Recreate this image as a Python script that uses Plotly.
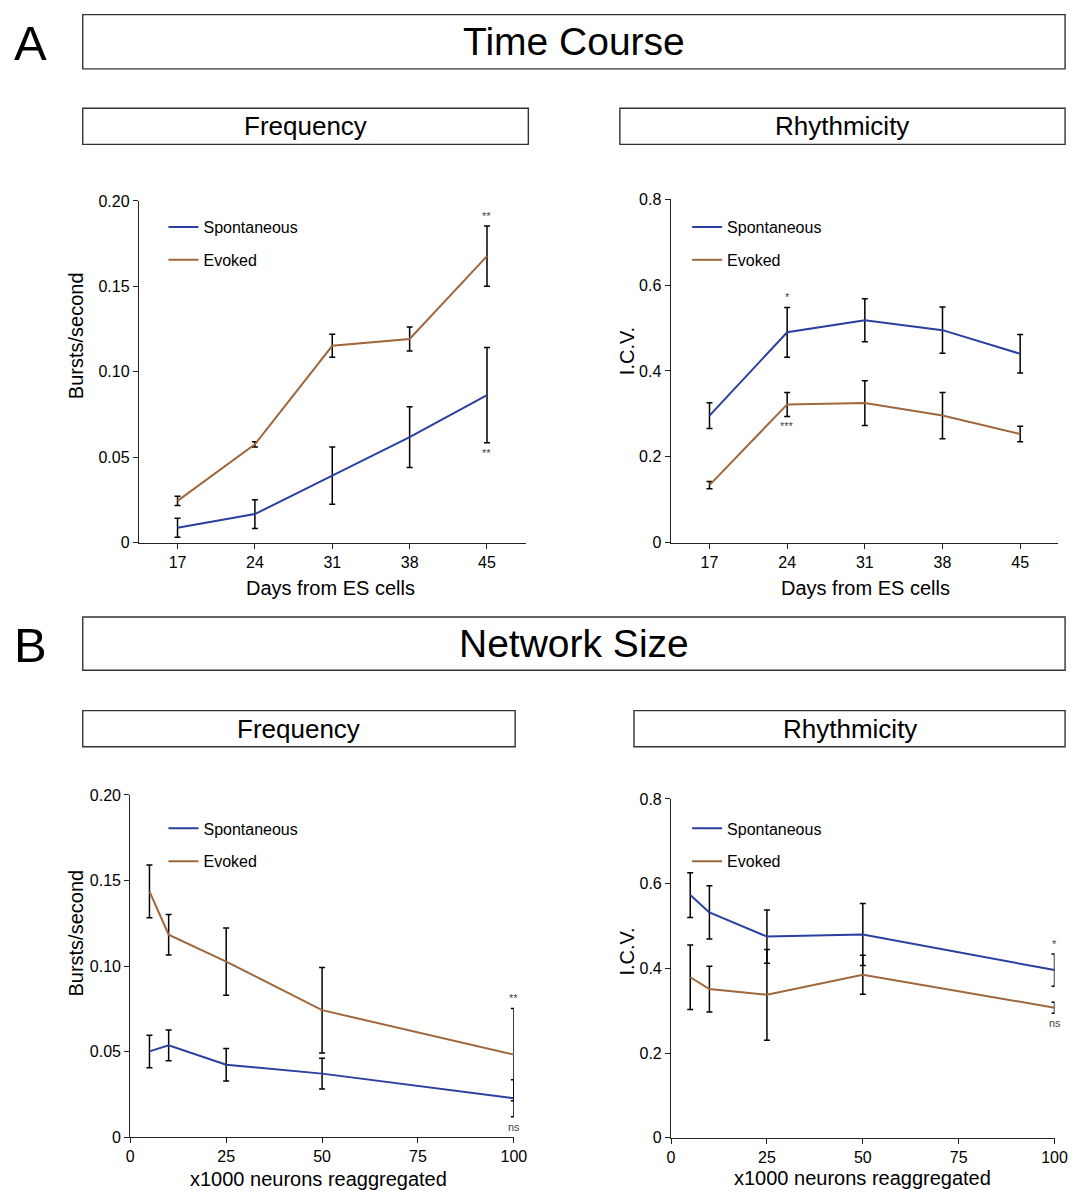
import plotly.graph_objects as go

W, H = 1083, 1200

# ---------------- data ----------------
days = [17, 24, 31, 38, 45]
tc_freq_spont = [0.0087, 0.0167, 0.0392, 0.0617, 0.0863]
tc_freq_spont_err = [0.0055, 0.0084, 0.0167, 0.0178, 0.0279]
tc_freq_evoked = [0.0244, 0.0575, 0.1152, 0.1192, 0.1677]
tc_freq_evoked_err = [0.0027, 0.0015, 0.0067, 0.0070, 0.0176]
tc_icv_spont = [0.296, 0.490, 0.518, 0.495, 0.440]
tc_icv_spont_err = [0.030, 0.058, 0.050, 0.054, 0.045]
tc_icv_evoked = [0.134, 0.322, 0.325, 0.296, 0.253]
tc_icv_evoked_err = [0.0085, 0.028, 0.052, 0.054, 0.018]

neurons = [5, 10, 25, 50, 100]
ns_freq_spont = [0.0501, 0.0536, 0.0423, 0.0371, 0.0227]
ns_freq_spont_err = [0.0095, 0.0090, 0.0095, 0.0090, 0.0108]
ns_freq_evoked = [0.1437, 0.1183, 0.1026, 0.0742, 0.0482]
ns_freq_evoked_err = [0.0154, 0.0118, 0.0197, 0.0250, 0.0270]
ns_icv_spont = [0.573, 0.532, 0.475, 0.480, 0.396]
ns_icv_spont_err = [0.053, 0.063, 0.063, 0.073, 0.038]
ns_icv_evoked = [0.379, 0.351, 0.3375, 0.385, 0.307]
ns_icv_evoked_err = [0.076, 0.054, 0.107, 0.046, 0.013]

freq_ticks = [0, 0.05, 0.10, 0.15, 0.20]
freq_ticktext = ["0", "0.05", "0.10", "0.15", "0.20"]
icv_ticks = [0, 0.2, 0.4, 0.6, 0.8]
icv_ticktext = ["0", "0.2", "0.4", "0.6", "0.8"]
neuron_ticks = [0, 25, 50, 75, 100]

BLUE = "#2b3f9e"
BROWN = "#a0663c"
FONT = "Liberation Sans, Arial, Helvetica, sans-serif"


def fx(px):
    return px / W


def fy(py):
    return 1 - py / H


panels = [
    dict(n="", x=days, s=tc_freq_spont, se=tc_freq_spont_err, e=tc_freq_evoked, ee=tc_freq_evoked_err,
         xpx=(137, 530), ypx=(542.3, 195.7), xr=[13.5, 48.5], xtv=days, xtt=[str(d) for d in days],
         yr=[0, 0.2], ytv=freq_ticks, ytt=freq_ticktext,
         ytitle="Bursts/second", ytpos=(73, 332), xtitle="Days from ES cells", xtpos=(332, 588),
         leg=(162, 205),
         stars=[("e", 4, "above", "**"), ("s", 4, "below", "**")]),
    dict(n="2", x=days, s=tc_icv_spont, se=tc_icv_spont_err, e=tc_icv_evoked, ee=tc_icv_evoked_err,
         xpx=(677.3, 1070.7), ypx=(542.3, 194), xr=[13.5, 48.4], xtv=days, xtt=[str(d) for d in days],
         yr=[0, 0.8], ytv=icv_ticks, ytt=icv_ticktext,
         ytitle="I.C.V.", ytpos=(633, 348), xtitle="Days from ES cells", xtpos=(875, 588),
         leg=(694, 205),
         stars=[("s", 1, "above", "*"), ("e", 1, "below", "***")]),
    dict(n="3", x=neurons, s=ns_freq_spont, se=ns_freq_spont_err, e=ns_freq_evoked, ee=ns_freq_evoked_err,
         xpx=(128.3, 518), ypx=(1145.3, 798.3), xr=[0, 100], xtv=neuron_ticks, xtt=[str(t) for t in neuron_ticks],
         yr=[0, 0.2], ytv=freq_ticks, ytt=freq_ticktext,
         ytitle="Bursts/second", ytpos=(73, 938), xtitle="x1000 neurons reaggregated", xtpos=(320, 1188),
         leg=(162, 815),
         stars=[("e", 4, "above", "**"), ("s", 4, "below", "ns")]),
    dict(n="4", x=neurons, s=ns_icv_spont, se=ns_icv_spont_err, e=ns_icv_evoked, ee=ns_icv_evoked_err,
         xpx=(677.7, 1067.3), ypx=(1146, 802.3), xr=[0, 100], xtv=neuron_ticks, xtt=[str(t) for t in neuron_ticks],
         yr=[0, 0.8], ytv=icv_ticks, ytt=icv_ticktext,
         ytitle="I.C.V.", ytpos=(633, 957), xtitle="x1000 neurons reaggregated", xtpos=(872, 1187),
         leg=(694, 815),
         stars=[("s", 4, "above", "*"), ("e", 4, "below", "ns")]),
]

fig = go.Figure()
annotations = []
shapes = []
layout = {}

for i, p in enumerate(panels):
    n = p["n"]
    xa = "x" + n
    ya = "y" + n
    leg = "legend" + n
    for key, name, color in (("s", "Spontaneous", BLUE), ("e", "Evoked", BROWN)):
        fig.add_trace(go.Scatter(
            x=p["x"], y=p[key], mode="lines", name=name,
            line=dict(color=color, width=2),
            error_y=dict(type="data", array=p[key + "e"], visible=True, color="black", thickness=1.5, width=3),
            xaxis=xa, yaxis=ya, legend=leg, legendgroup=name + n, cliponaxis=False,
        ))
    axis_common = dict(showline=True, linecolor="#222", linewidth=1.2, ticks="outside", ticklen=5,
                       tickwidth=1.2, tickcolor="#222", showgrid=False, zeroline=False,
                       tickfont=dict(family=FONT, size=16, color="black"))
    layout["xaxis" + n] = dict(domain=[fx(p["xpx"][0]), fx(p["xpx"][1])], range=p["xr"],
                               tickvals=p["xtv"], ticktext=p["xtt"], anchor=ya, **axis_common)
    layout["yaxis" + n] = dict(domain=[fy(p["ypx"][0]), fy(p["ypx"][1])], range=p["yr"],
                               tickvals=p["ytv"], ticktext=p["ytt"], anchor=xa, **axis_common)
    layout[leg] = dict(x=fx(p["leg"][0]), y=fy(p["leg"][1]), xanchor="left", yanchor="top",
                       bgcolor="rgba(0,0,0,0)", font=dict(family=FONT, size=16, color="black"),
                       tracegroupgap=9, traceorder="grouped", itemwidth=30)
    annotations.append(dict(text=p["ytitle"], x=fx(p["ytpos"][0]), y=fy(p["ytpos"][1]), xref="paper", yref="paper",
                            xanchor="center", yanchor="middle",
                            textangle=-90, showarrow=False, font=dict(family=FONT, size=20, color="black")))
    annotations.append(dict(text=p["xtitle"], x=fx(p["xtpos"][0]), y=fy(p["xtpos"][1]), xref="paper", yref="paper",
                            xanchor="center", yanchor="middle",
                            showarrow=False, font=dict(family=FONT, size=20, color="black")))
    for key, idx, where, txt in p["stars"]:
        val = p[key][idx]
        err = p[key + "e"][idx]
        if where == "above":
            annotations.append(dict(text=txt, x=p["x"][idx], y=val + err, xref=xa, yref=ya, showarrow=False,
                                    xanchor="center", yanchor="bottom", yshift=2,
                                    font=dict(family=FONT, size=11, color="#444")))
        else:
            annotations.append(dict(text=txt, x=p["x"][idx], y=val - err, xref=xa, yref=ya, showarrow=False,
                                    xanchor="center", yanchor="top", yshift=-2,
                                    font=dict(family=FONT, size=11, color="#444")))

# header boxes
boxes = [
    ("Time Course", 80, 1078, 6.7, 61.7, 39),
    ("Frequency", 80, 532.7, 101.7, 138.3, 26),
    ("Rhythmicity", 625.7, 1078, 101.7, 138.3, 26),
    ("Network Size", 80, 1078, 617.7, 671.7, 39),
    ("Frequency", 80, 519.3, 712.7, 749.3, 26),
    ("Rhythmicity", 640, 1078, 712.7, 749.3, 26),
]
for txt, x0, x1, y0, y1, fs in boxes:
    shapes.append(dict(type="rect", xref="paper", yref="paper", x0=fx(x0), x1=fx(x1), y0=fy(y1), y1=fy(y0),
                       line=dict(color="#333", width=1.4), fillcolor="rgba(0,0,0,0)"))
    annotations.append(dict(text=txt, x=fx((x0 + x1) / 2), y=fy((y0 + y1) / 2), xref="paper", yref="paper",
                            showarrow=False, xanchor="center", yanchor="middle",
                            font=dict(family=FONT, size=fs, color="black")))

for letter, cy in (("A", 35), ("B", 646)):
    annotations.append(dict(text=letter, x=fx(27), y=fy(cy), xref="paper", yref="paper", showarrow=False,
                            xanchor="center", yanchor="middle", font=dict(family=FONT, size=49, color="black")))

fig.update_layout(
    width=W, height=H, margin=dict(l=0, r=0, t=0, b=0),
    paper_bgcolor="white", plot_bgcolor="white",
    annotations=annotations, shapes=shapes, showlegend=True,
    font=dict(family=FONT, color="black"),
    **layout,
)

fig.write_html("out.html", config={"displayModeBar": False},
               post_script="document.body.style.margin='0';")
